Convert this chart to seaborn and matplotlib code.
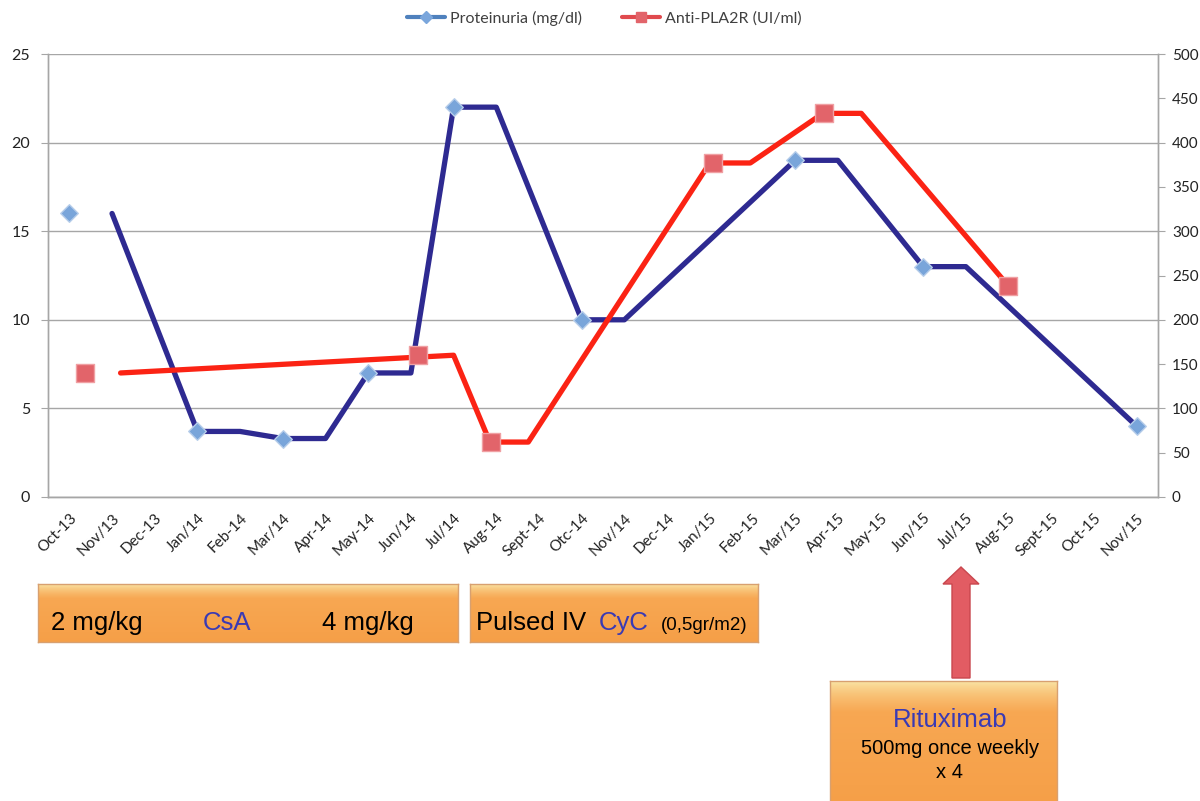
import numpy as np
import seaborn as sns
import matplotlib
matplotlib.use('Agg')
import matplotlib.pyplot as plt
from matplotlib.lines import Line2D
from matplotlib.patches import Polygon

# month categories on the x axis (kept as written in the original)
months = ['Oct-13', 'Nov/13', 'Dec-13', 'Jan/14', 'Feb-14', 'Mar/14', 'Apr-14',
          'May-14', 'Jun/14', 'Jul/14', 'Aug-14', 'Sept-14', 'Otc-14', 'Nov/14',
          'Dec-14', 'Jan/15', 'Feb-15', 'Mar/15', 'Apr-15', 'May-15', 'Jun/15',
          'Jul/15', 'Aug-15', 'Sept-15', 'Oct-15', 'Nov/15']

# proteinuria (mg/dl) measurements, x = month index
prot_month = [0, 3, 5, 7, 9, 12, 17, 20, 25]
prot_value = [16, 3.7, 3.3, 7, 22, 10, 19, 13, 4]
# hand-drawn proteinuria trace
prot_line_month = [1, 3, 4, 5, 6, 7, 8, 9, 10, 12, 13, 17, 18, 20, 21, 25]
prot_line_value = [16, 3.7, 3.7, 3.3, 3.3, 7, 7, 22, 22, 10, 10, 19, 19, 13, 13, 4]

# anti-PLA2R (UI/ml) measurements
pla2r_month = [0.37, 8.17, 9.87, 15.07, 17.67, 21.98]
pla2r_value = [140, 160, 62, 377, 433, 238]
# hand-drawn anti-PLA2R trace
pla2r_line_month = [1.2, 9.0, 9.85, 10.75, 15.0, 15.95, 17.65, 18.55, 22.0]
pla2r_line_value = [140, 160, 62, 62, 377, 377, 433, 433, 238]

W, H = 1200, 801
GRID = '#a6a6a6'
NAVY = '#2e2a91'
RED = '#fb2314'
BLUE_TXT = '#3a3ab4'
ARIAL = ['Liberation Sans', 'DejaVu Sans']

sns.set_style('white')
plt.rcParams['font.family'] = ['Lato', 'DejaVu Sans']

fig = plt.figure(figsize=(12, 8.01), dpi=100)
ax = fig.add_axes([48 / W, 1 - 497 / H, (1158 - 48) / W, (497 - 54) / H])
ax2 = ax.twinx()

# lines + markers
sns.lineplot(x=prot_line_month, y=prot_line_value, ax=ax, color=NAVY,
             linewidth=3.8, sort=False, zorder=3)
sns.scatterplot(x=prot_month, y=prot_value, ax=ax, marker='D', s=80,
                color='#79a5da', edgecolor='#b6cdea', linewidth=1, zorder=4)
sns.lineplot(x=pla2r_line_month, y=pla2r_line_value, ax=ax2, color=RED,
             linewidth=3.8, sort=False, zorder=3)
sns.scatterplot(x=pla2r_month, y=pla2r_value, ax=ax2, marker='s', s=150,
                color='#e2646a', edgecolor='#f0a0a3', linewidth=1, zorder=4)

ax.set_xlim(-0.5, len(months) - 0.5)
ax.set_ylim(0, 25)
ax2.set_ylim(0, 500)

ax.set_xticks(range(len(months)))
ax.set_xticklabels(months, rotation=45, ha='right', rotation_mode='anchor',
                   fontsize=11, color='#222222')
ax.set_xticks(np.arange(-0.5, len(months), 1), minor=True)
ax.tick_params(axis='x', which='major', length=0, pad=10)
ax.tick_params(axis='x', which='minor', length=5, color=GRID, direction='out')

ax.set_yticks(range(0, 26, 5))
ax.tick_params(axis='y', length=5, color=GRID, direction='out',
               labelsize=11.5, labelcolor='#222222', pad=8)
ax2.set_yticks(range(0, 501, 50))
ax2.tick_params(axis='y', length=5, color=GRID, direction='out',
                labelsize=11, labelcolor='#222222', pad=5)

ax.yaxis.grid(True, color=GRID, linewidth=1)
ax.set_axisbelow(True)
ax.set_xlabel('')
ax.set_ylabel('')
ax2.set_ylabel('')
for a in (ax, ax2):
    a.spines['top'].set_visible(False)
    for s in ('left', 'right', 'bottom'):
        a.spines[s].set_color(GRID)
        a.spines[s].set_linewidth(1)

# legend at the top
handles = [
    Line2D([0], [0], color='#4f81bd', lw=3, marker='D', markersize=6,
           markerfacecolor='#7aa6dc', markeredgecolor='#7aa6dc'),
    Line2D([0], [0], color='#e04a4e', lw=3, marker='s', markersize=7,
           markerfacecolor='#e2646a', markeredgecolor='#e2646a'),
]
fig.legend(handles, ['Proteinuria (mg/dl)', 'Anti-PLA2R (UI/ml)'],
           loc='center', bbox_to_anchor=(604 / W, 1 - 18 / H), ncol=2,
           frameon=False, fontsize=11.5, handlelength=2.4, handletextpad=0.3,
           columnspacing=2.5, labelcolor='#404040')


def px(x, y):
    return x / W, 1 - y / H


def orange_box(x0, y0, x1, y1):
    bax = fig.add_axes([x0 / W, 1 - y1 / H, (x1 - x0) / W, (y1 - y0) / H])
    t = np.linspace(0, 1, 200)
    top = np.array([250, 232, 170]) / 255
    mid = np.array([248, 170, 86]) / 255
    bot = np.array([244, 152, 62]) / 255
    hl = np.clip(t / 0.25, 0, 1)[:, None] ** 0.7
    col = top * (1 - hl) + mid * hl
    col = col * (1 - t[:, None] * 0.6) + bot * (t[:, None] * 0.6)
    bax.imshow(col[:, None, :], aspect='auto', extent=[0, 1, 0, 1])
    bax.set_xticks([])
    bax.set_yticks([])
    for s in bax.spines.values():
        s.set_color('#d8a070')
        s.set_linewidth(1)
    return bax


orange_box(38, 584, 458, 642)
orange_box(470, 584, 758, 642)
orange_box(830, 681, 1057, 806)

big = dict(fontsize=18.5, family=ARIAL, va='baseline')
fig.text(*px(51, 630), '2 mg/kg', color='black', **big)
fig.text(*px(203, 630), 'CsA', color=BLUE_TXT, **big)
fig.text(*px(322, 630), '4 mg/kg', color='black', **big)
fig.text(*px(476, 630), 'Pulsed IV', color='black', **big)
fig.text(*px(599, 630), 'CyC', color=BLUE_TXT, **big)
fig.text(*px(661, 630), '(0,5gr/m2)', color='black', fontsize=13.5,
         family=ARIAL, va='baseline')

fig.text(*px(950, 720), 'Rituximab', color=BLUE_TXT, ha='center', va='center',
         fontsize=18.5, family=ARIAL)
fig.text(*px(950, 748), '500mg once weekly', color='black', ha='center',
         va='center', fontsize=14.5, family=ARIAL)
fig.text(*px(950, 773), 'x 4', color='black', ha='center', va='center',
         fontsize=14.5, family=ARIAL)

# upward arrow pointing at Jul/15
arrow_pts = [px(952, 678), px(952, 584), px(943, 584), px(961, 567),
             px(979, 584), px(970, 584), px(970, 678)]
fig.patches.append(Polygon(arrow_pts, closed=True, transform=fig.transFigure,
                           facecolor='#e25c63', edgecolor='#c9474e', lw=1))

fig.savefig('out.png', dpi=100, facecolor='white')
